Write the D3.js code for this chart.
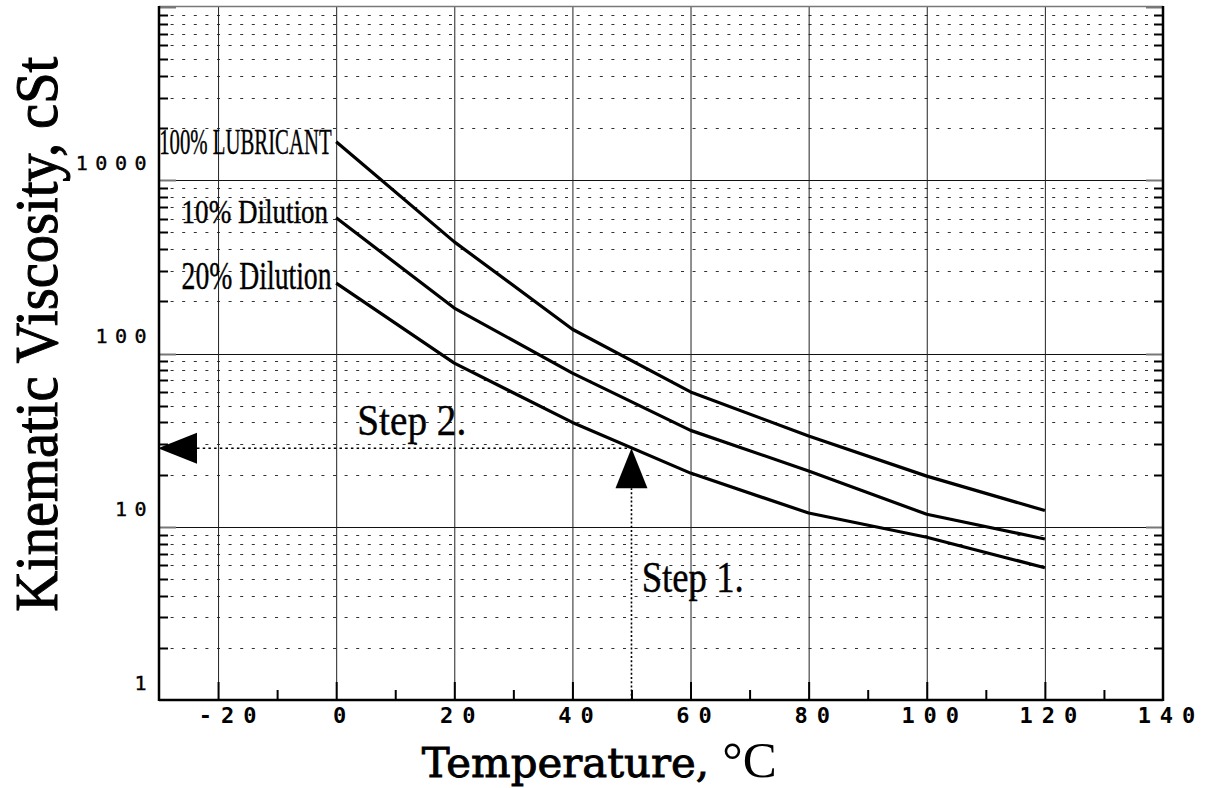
<!DOCTYPE html>
<html>
<head>
<meta charset="utf-8">
<script src="https://cdn.jsdelivr.net/npm/d3@7"></script>
<style>
  html, body { margin: 0; padding: 0; background: #fff; }
  svg { display: block; }
</style>
</head>
<body>
<svg id="chart" width="1207" height="788"></svg>
<script>
// --- Daten ---
const temps = [0, 20, 40, 60, 80, 100, 120];            // °C
const lubricant100 = [1666, 441, 138, 60, 33.4, 19.6, 12.4]; // cSt
const dilution10 = [607, 183, 77, 36, 21, 11.8, 8.5];
const dilution20 = [255, 88, 40, 20.4, 12, 8.7, 5.8];
const seriesNames = ['100% LUBRICANT', '10% Dilution', '20% Dilution'];

const xTickValues = [-20, 0, 20, 40, 60, 80, 100, 120, 140];
const xMinorValues = [-10, 10, 30, 50, 70, 90, 110, 130];
const yTickValues = [1, 10, 100, 1000];

// Beispiel-Ablesung: Schritt 1 (Temperatur) -> Schritt 2 (Viskosität)
const stepTemp = 50;
const stepVisc = 28.4;

// --- Layout ---
const plotLeft = 159, plotRight = 1163, plotTop = 7, plotBottom = 700;
const svg = d3.select('#chart');

const x = d3.scaleLinear().domain([-30, 140]).range([plotLeft, plotRight]);
const y = d3.scaleLog().domain([1, 10000]).range([plotBottom, plotTop]);

const allY = y.ticks();                           // 1..9, 10..90, ...
const isDecade = v => Math.abs(Math.log10(v) - Math.round(Math.log10(v))) < 1e-9;
const minorY = allY.filter(v => !isDecade(v));
const decadeY = allY.filter(v => isDecade(v) && v > 1 && v < 10000);

// --- Gitter ---
// gepunktete Zwischenlinien 2..9
svg.append('g').selectAll('line').data(minorY).join('line')
  .attr('x1', plotLeft).attr('x2', plotRight)
  .attr('y1', d => Math.round(y(d)) + 0.5).attr('y2', d => Math.round(y(d)) + 0.5)
  .attr('stroke', '#333').attr('stroke-width', 1)
  .attr('stroke-dasharray', '3,8.6');

// durchgezogene Dekadenlinien
svg.append('g').selectAll('line').data(decadeY).join('line')
  .attr('x1', plotLeft).attr('x2', plotRight)
  .attr('y1', d => Math.round(y(d)) + 0.5).attr('y2', d => Math.round(y(d)) + 0.5)
  .attr('stroke', '#111').attr('stroke-width', 1);

// senkrechte Gitterlinien über die Achse
const xGrid = svg.append('g')
  .attr('transform', `translate(0,${plotBottom})`)
  .call(d3.axisBottom(x).tickValues(xTickValues.filter(v => v < 140))
    .tickSize(-(plotBottom - plotTop)).tickFormat(''));
xGrid.select('.domain').remove();
xGrid.selectAll('line').attr('stroke', '#222').attr('stroke-width', 1);

// --- Ticks unten ---
svg.append('g').selectAll('line').data(xTickValues.filter(v => v < 140)).join('line')
  .attr('x1', d => x(d) + 0.5).attr('x2', d => x(d) + 0.5)
  .attr('y1', plotBottom).attr('y2', plotBottom - 18)
  .attr('stroke', '#000').attr('stroke-width', 2);
svg.append('g').selectAll('line').data(xMinorValues).join('line')
  .attr('x1', d => x(d) + 0.5).attr('x2', d => x(d) + 0.5)
  .attr('y1', plotBottom).attr('y2', plotBottom - 10)
  .attr('stroke', '#000').attr('stroke-width', 2);

// --- Ticks links und rechts ---
[[plotLeft, 1], [plotRight, -1]].forEach(([edge, dir]) => {
  svg.append('g').selectAll('line').data(minorY).join('line')
    .attr('x1', edge).attr('x2', edge + dir * 9)
    .attr('y1', d => Math.round(y(d)) + 0.5).attr('y2', d => Math.round(y(d)) + 0.5)
    .attr('stroke', '#000').attr('stroke-width', 2);
  svg.append('g').selectAll('line').data(decadeY.concat([10000])).join('line')
    .attr('x1', edge).attr('x2', edge + dir * 17)
    .attr('y1', d => Math.round(y(d)) + 0.5).attr('y2', d => Math.round(y(d)) + 0.5)
    .attr('stroke', '#777').attr('stroke-width', 2);
});

// --- Rahmen ---
svg.append('line').attr('x1', plotLeft).attr('x2', plotRight).attr('y1', plotTop - 0.5).attr('y2', plotTop - 0.5)
  .attr('stroke', '#777').attr('stroke-width', 1.5);
svg.append('line').attr('x1', plotLeft).attr('x2', plotLeft).attr('y1', plotTop - 1).attr('y2', plotBottom + 1)
  .attr('stroke', '#000').attr('stroke-width', 2.5);
svg.append('line').attr('x1', plotRight).attr('x2', plotRight).attr('y1', plotTop - 1).attr('y2', plotBottom + 1)
  .attr('stroke', '#000').attr('stroke-width', 2.5);
svg.append('line').attr('x1', plotLeft).attr('x2', plotRight).attr('y1', plotBottom).attr('y2', plotBottom)
  .attr('stroke', '#000').attr('stroke-width', 2.5);

// --- Achsenbeschriftung ---
const tickFont = '"DejaVu Sans Mono", "Liberation Mono", monospace';

svg.append('g').selectAll('text').data(xTickValues).join('text')
  .attr('x', d => x(d) + 8 + (d < 0 ? 6 : 0))
  .attr('y', 723)
  .attr('text-anchor', 'middle')
  .attr('font-family', tickFont).attr('font-weight', 'bold')
  .attr('font-size', 22).attr('letter-spacing', 9)
  .text(d => d);

svg.append('g').selectAll('text').data(yTickValues).join('text')
  .attr('x', 154)
  .attr('y', d => y(d) - 10.5)
  .attr('text-anchor', 'end')
  .attr('font-family', tickFont)
  .attr('font-size', 20).attr('letter-spacing', 7.5)
  .attr('stroke', '#000').attr('stroke-width', 0.4)
  .text(d => d);

// x-Achsentitel: ein Text, Gradzeichen in Times-ähnlicher Schrift
const xTitle = svg.append('text')
  .attr('x', 421.7).attr('y', 776.7)
  .attr('textLength', 355).attr('lengthAdjust', 'spacingAndGlyphs')
  .attr('fill', '#000');
xTitle.append('tspan')
  .attr('font-family', '"DejaVu Serif", serif').attr('font-size', 41)
  .attr('stroke', '#000').attr('stroke-width', 0.9)
  .text('Temperature, ');
xTitle.append('tspan')
  .attr('font-family', '"Liberation Serif", serif').attr('font-size', 50)
  .text('°C');

svg.append('text')
  .attr('transform', 'translate(56.7,334.2) rotate(-90)')
  .attr('text-anchor', 'middle')
  .attr('font-family', '"Liberation Serif", serif')
  .attr('font-size', 62)
  .attr('stroke', '#000').attr('stroke-width', 1)
  .attr('textLength', 555).attr('lengthAdjust', 'spacingAndGlyphs')
  .text('Kinematic Viscosity, cSt');

// --- Kurven ---
const series = [lubricant100, dilution10, dilution20];
const line = d3.line().x((d, i) => x(temps[i])).y(d => y(d));

svg.append('g').selectAll('path').data(series).join('path')
  .attr('d', d => line(d))
  .attr('fill', 'none').attr('stroke', '#000')
  .attr('stroke-width', 3.2).attr('stroke-linejoin', 'round');

// Kurvenbeschriftungen links vom Kurvenanfang
const labelPos = [
  { dx: -177, dy: 12.3, size: 35, len: 172.4 },
  { dx: -154.6, dy: 5, size: 34, len: 146.6 },
  { dx: -154.6, dy: 6.3, size: 40, len: 150 }
];
svg.append('g').selectAll('text').data(series).join('text')
  .attr('x', (d, i) => x(temps[0]) + labelPos[i].dx)
  .attr('y', (d, i) => y(d[0]) + labelPos[i].dy)
  .attr('font-family', '"Liberation Serif", serif')
  .attr('font-size', (d, i) => labelPos[i].size)
  .attr('stroke', '#000').attr('stroke-width', 0.4)
  .attr('textLength', (d, i) => labelPos[i].len)
  .attr('lengthAdjust', 'spacingAndGlyphs')
  .text((d, i) => seriesNames[i]);

// --- Ablesebeispiel: Schritt 1 und 2 ---
const sx = x(stepTemp), sy = y(stepVisc);

svg.append('line')
  .attr('x1', sx).attr('x2', sx).attr('y1', plotBottom).attr('y2', sy + 40)
  .attr('stroke', '#000').attr('stroke-width', 1.6).attr('stroke-dasharray', '2,2.2');
svg.append('line')
  .attr('x1', plotLeft + 38).attr('x2', sx).attr('y1', sy).attr('y2', sy)
  .attr('stroke', '#000').attr('stroke-width', 1.6).attr('stroke-dasharray', '2.5,3.2');

// Pfeil nach oben (an der Kurve)
svg.append('path')
  .attr('d', `M${sx},${sy} L${sx - 16},${sy + 40} L${sx + 16},${sy + 40} Z`)
  .attr('fill', '#000');
// Pfeil nach links (an der Achse)
svg.append('path')
  .attr('d', `M${plotLeft - 1},${sy} L${plotLeft + 38},${sy - 15.5} L${plotLeft + 38},${sy + 15.5} Z`)
  .attr('fill', '#000');

svg.append('text')
  .attr('x', 357.3).attr('y', 435)
  .attr('font-family', '"Liberation Serif", serif').attr('font-size', 45)
  .attr('stroke', '#000').attr('stroke-width', 0.4)
  .attr('textLength', 109).attr('lengthAdjust', 'spacingAndGlyphs')
  .text('Step 2.');
svg.append('text')
  .attr('x', 641.7).attr('y', 591.5)
  .attr('font-family', '"Liberation Serif", serif').attr('font-size', 45)
  .attr('stroke', '#000').attr('stroke-width', 0.4)
  .attr('textLength', 102).attr('lengthAdjust', 'spacingAndGlyphs')
  .text('Step 1.');
</script>
</body>
</html>
